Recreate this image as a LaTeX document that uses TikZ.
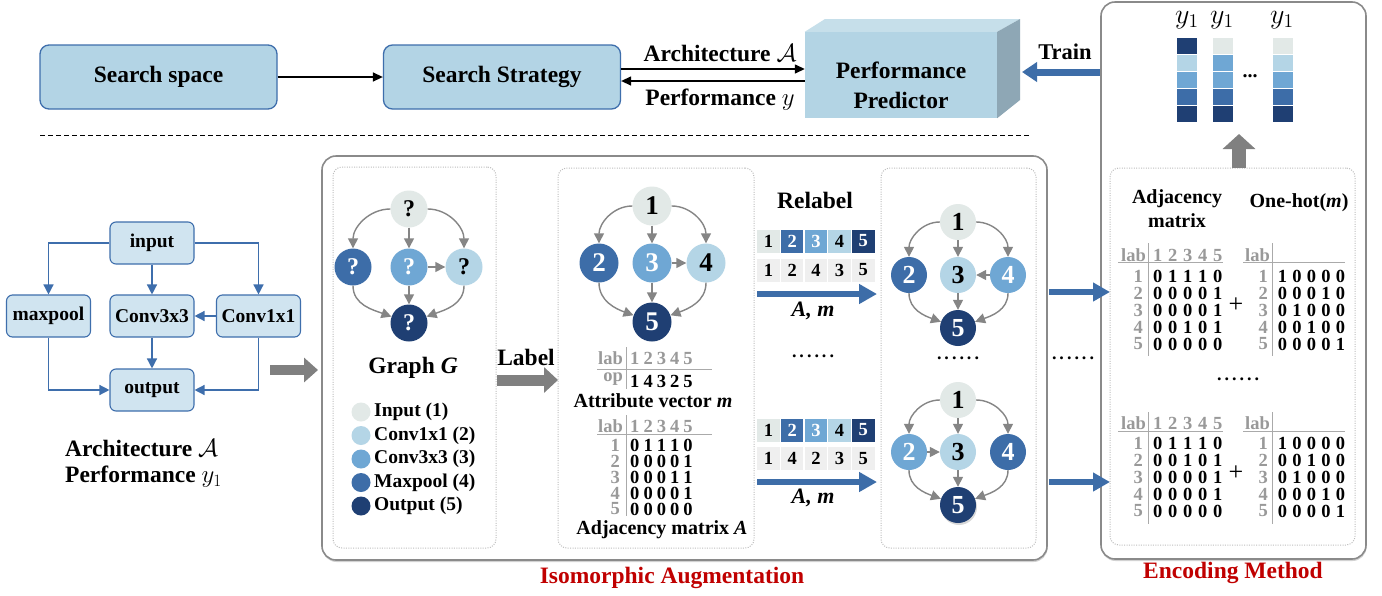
\documentclass[tikz,border=0pt]{standalone}
\usepackage{fontspec}
\setmainfont{Liberation Serif}
\usetikzlibrary{arrows.meta,shadows,calc}
\definecolor{cgray}{HTML}{E2E9E7}
\definecolor{clight}{HTML}{B4D5E6}
\definecolor{cmid}{HTML}{6FA7D4}
\definecolor{cblue}{HTML}{3D6DA8}
\definecolor{cnavy}{HTML}{1F3F73}
\definecolor{boxfill}{HTML}{B3D4E5}
\definecolor{boxedge}{HTML}{3E6EAC}
\definecolor{archfill}{HTML}{D0E4F0}
\definecolor{arrgray}{HTML}{808080}
\definecolor{edgegray}{HTML}{858585}
\definecolor{cellgray}{HTML}{EFEFEF}
\definecolor{labgray}{HTML}{999999}
\definecolor{linegray}{HTML}{AAAAAA}
\definecolor{boxgray}{HTML}{8A8A8A}
\definecolor{dotgray}{HTML}{BDBDBD}
\definecolor{darkred}{HTML}{C00000}
\definecolor{ppfront}{HTML}{B3D4E4}
\definecolor{pptop}{HTML}{C6DFEA}
\definecolor{ppside}{HTML}{8EA7B5}
\newcommand\fs[1]{\fontsize{#1}{#1}\selectfont}
\newcommand\fiv[6]{\makebox[#1]{#2}\makebox[#1]{#3}\makebox[#1]{#4}\makebox[#1]{#5}\makebox[#1]{#6}}
\newcommand\sixdots{.\kern3pt.\kern3pt.\kern3pt.\kern3pt.\kern3pt.}
\tikzset{
 topbox/.style={draw=boxedge, line width=1.3pt, fill=boxfill, rounded corners=9pt, minimum width=237pt, minimum height=64pt, inner sep=0pt, font=\fs{23.5}\bfseries},
 ab/.style={draw=boxedge, line width=1.1pt, fill=archfill, rounded corners=6pt, minimum width=84pt, minimum height=42pt, inner sep=0pt, font=\fs{19.5}\bfseries},
 blk/.style={draw=black, line width=1.4pt, -{Triangle[length=10pt,width=9pt]}},
 barr/.style={draw=boxedge, line width=1.4pt, -{Triangle[length=10pt,width=10pt]}},
 gedge/.style={draw=edgegray, line width=1.4pt, -{Triangle[length=10pt,width=10pt]}},
 gn/.style={circle, inner sep=0pt, minimum size=#1},
 ng/.style={fill=cgray, text=black},
 nl/.style={fill=clight, text=black},
 nm/.style={fill=cmid, text=white},
 nb/.style={fill=cblue, text=white},
 nn/.style={fill=cnavy, text=white},
 fatgray/.style={draw=arrgray, line width=10pt, -{Triangle[length=14pt,width=24pt]}},
 fatblue/.style={draw=cblue, line width=6pt, -{Triangle[length=18pt,width=19pt]}},
 txt/.style={inner sep=0pt, font=\fs{#1}\bfseries},
 cell/.style={minimum width=22.5pt, minimum height=23pt, inner sep=0pt, font=\fs{18.5}\bfseries},
 outerbox/.style={draw=boxgray, line width=1.6pt, rounded corners=14pt, fill=white, inner sep=0pt, drop shadow={shadow xshift=0.5pt, shadow yshift=-2pt, opacity=0.35}},
 dotbox/.style={draw=dotgray, line width=1pt, dash pattern=on 1pt off 1.4pt, rounded corners=9pt, inner sep=0pt},
 rl/.style={anchor=east, inner sep=0pt, text=labgray, font=\fs{18.5}\bfseries},
 rv/.style={anchor=west, inner sep=0pt, font=\fs{18.5}\bfseries},
 tline/.style={draw=linegray, line width=0.9pt},
}
\begin{document}
\begin{tikzpicture}[x=1pt,y=-1pt]
\useasboundingbox (0,0) rectangle (1382,595);
\fill[white] (0,0) rectangle (1382,595);

% ---------- outer boxes
\node[outerbox, minimum width=725pt, minimum height=404pt] (iso) at (684.5,358) {};
\node[outerbox, minimum width=265pt, minimum height=557pt] (enc) at (1233.5,280.5) {};
\node[dotbox, minimum width=163pt, minimum height=381pt] (d1) at (414.5,357.5) {};
\node[dotbox, minimum width=196pt, minimum height=380pt] (d2) at (656,358) {};
\node[dotbox, minimum width=155pt, minimum height=380pt] (d3) at (958.5,358) {};
\node[dotbox, minimum width=245pt, minimum height=377pt] (d4) at (1232.5,356.5) {};

% ---------- top row
\node[topbox] (ss) at (158.5,77) {Search space};
\node[topbox] (st) at (502,77) {Search Strategy};
\draw[blk] (ss) -- (st);

\node[fill=ppfront, minimum width=192pt, minimum height=86pt, inner sep=0pt] (pp) at (901,75) {};
\fill[pptop] (pp.north west) -- (825,19) -- (1020,19) -- (pp.north east) -- cycle;
\fill[ppside] (pp.north east) -- (1020,19) -- (1020,100) -- (pp.south east) -- cycle;
\node[txt=23.5, align=center, font=\fontsize{23.5}{30}\selectfont\bfseries] (ppt) at (901,85) {Performance\\Predictor};

\draw[blk] ($(st.east)+(0,-8)$) -- ($(pp.west)+(0,-6)$);
\draw[blk] ($(pp.west)+(0,6)$) -- ($(st.east)+(0,4)$);
\node[txt=23.5] (archl) at (720,53) {Architecture $\mathcal{A}$};
\node[txt=23.5] (perfl) at (720,100) {Performance $y$};

\node[txt=22.5] (trainl) at (1065,52) {Train};
\coordinate (trs) at (1100,72);
\coordinate (tre) at (1022,72);
\draw[draw=cblue, line width=7pt, -{Triangle[length=15pt,width=19pt]}] (trs) -- (tre);

\draw[black, line width=0.8pt, dash pattern=on 5pt off 3pt] (40,135) -- (1030,135);

% ---------- bars
\foreach \x/\ca/\cb/\cc in {1176/cnavy/clight/cmid, 1212/cgray/cmid/cmid, 1272/cgray/clight/cmid} {
  \filldraw[draw=white, line width=0.8pt, fill=\ca] (\x,37) rectangle ++(21,17);
  \filldraw[draw=white, line width=0.8pt, fill=\cb] (\x,54) rectangle ++(21,17);
  \filldraw[draw=white, line width=0.8pt, fill=\cc] (\x,71) rectangle ++(21,17);
  \filldraw[draw=white, line width=0.8pt, fill=cblue] (\x,88) rectangle ++(21,17);
  \filldraw[draw=white, line width=0.8pt, fill=cnavy] (\x,105) rectangle ++(21,17);
}
\node[inner sep=0pt, font=\fs{20}] (ya) at (1187,20) {\scalebox{1.35}{$y_1$}};
\node[inner sep=0pt, font=\fs{20}] (yb) at (1222,20) {\scalebox{1.35}{$y_1$}};
\node[inner sep=0pt, font=\fs{20}] (yc) at (1282,20) {\scalebox{1.35}{$y_1$}};
\node[txt=20] (bdots) at (1250,76) {...};
\coordinate (ups) at (1239,168);
\coordinate (upe) at (1239,134);
\draw[draw=arrgray, line width=14pt, -{Triangle[length=15pt,width=32pt]}] (ups) -- (upe);

% ---------- left architecture
\node[ab] (in) at (152,243) {input};
\node[ab] (mp) at (48.5,316) {maxpool};
\node[ab] (c3) at (152,316) {Conv3x3};
\node[ab] (c1) at (258.5,316) {Conv1x1};
\node[ab] (out) at (152,390) {output};
\draw[barr] (in.west) -| (mp.north);
\draw[barr] (in.east) -| (c1.north);
\draw[barr] (in) -- (c3);
\draw[barr] (c1) -- (c3);
\draw[barr] (c3) -- (out);
\draw[barr] (mp.south) |- (out.west);
\draw[barr] (c1.south) |- (out.east);
\node[txt=23.5, anchor=west] (al1) at (65,448) {Architecture $\mathcal{A}$};
\node[txt=23.5, anchor=west] (al2) at (65,477) {Performance $y_1$};
\coordinate (ga1) at (270,370);
\coordinate (ga2) at (318,370);
\draw[fatgray] (ga1) -- (ga2);

% ---------- Graph G
\begin{scope}[every node/.append style={font=\fs{24}\bfseries}]
\node[gn=37pt, ng] (a1) at (409,209) {?};
\node[gn=37pt, nb] (a2) at (353,267) {?};
\node[gn=37pt, nm] (a3) at (409,267) {?};
\node[gn=37pt, nl] (a4) at (464,267) {?};
\node[gn=37pt, nn] (a5) at (409,323) {?};
\end{scope}
\draw[gedge] (a1.180) to[out=180,in=90] (a2.north);
\draw[gedge] (a1.0) to[out=0,in=90] (a4.north);
\draw[gedge] (a1) -- (a3);
\draw[gedge] (a3) -- (a4);
\draw[gedge] (a3) -- (a5);
\draw[gedge] (a2.south) to[out=-90,in=160] (a5.160);
\draw[gedge] (a4.south) to[out=-90,in=20] (a5.20);
\node[txt=23.5] (gg) at (413,368) {Graph \textit{G}};
\foreach \y/\c/\t [count=\k] in {412/cgray/Input (1), 435.5/clight/Conv1x1 (2), 459/cmid/Conv3x3 (3), 482.5/cblue/Maxpool (4), 506/cnavy/Output (5)} {
  \node[circle, fill=\c, minimum size=19pt, inner sep=0pt] (lc\k) at (361,\y) {};
  \node[txt=19.5, anchor=west] (lt\k) at (374,\y) {\t};
}

% ---------- Label arrow
\node[txt=23.5] (labl) at (526,357) {Label};
\coordinate (la1) at (497,380);
\coordinate (la2) at (558,380);
\draw[draw=arrgray, line width=11pt, -{Triangle[length=14pt,width=25pt]}] (la1) -- (la2);

% ---------- Graph 2
\begin{scope}[every node/.append style={font=\fs{27}\bfseries}]
\node[gn=39pt, ng] (b1) at (652,206) {1};
\node[gn=39pt, nb] (b2) at (599,263) {2};
\node[gn=39pt, nm] (b3) at (652,263) {3};
\node[gn=39pt, nl] (b4) at (706,263) {4};
\node[gn=39pt, nn] (b5) at (652,322) {5};
\end{scope}
\draw[gedge] (b1.180) to[out=180,in=90] (b2.north);
\draw[gedge] (b1.0) to[out=0,in=90] (b4.north);
\draw[gedge] (b1) -- (b3);
\draw[gedge] (b3) -- (b4);
\draw[gedge] (b3) -- (b5);
\draw[gedge] (b2.south) to[out=-90,in=160] (b5.160);
\draw[gedge] (b4.south) to[out=-90,in=20] (b5.20);

% attribute vector table
\node[rl, anchor=east] (avl) at (623,358) {lab};
\node[rl, anchor=west] (avh) at (628,358) {\fiv{13.3pt}{1}{2}{3}{4}{5}};
\node[rl] (avo) at (623,379) {op};
\node[rv] (avv) at (628,381) {\fiv{13.3pt}{1}{4}{3}{2}{5}};
\draw[tline] (626,347) -- (626,389);
\draw[tline] (597,369) -- (712,369);
\node[txt=20] (avt) at (653,401) {Attribute vector \textit{m}};

% adjacency table
\node[rl] (adl) at (623,426) {lab};
\node[rl, anchor=west] (adh) at (628,426) {\fiv{13.3pt}{1}{2}{3}{4}{5}};
\draw[tline] (626,415) -- (626,516);
\draw[tline] (597,434) -- (712,434);
\foreach \r/\a/\b/\c/\d/\e [count=\k] in {445/0/1/1/1/0, 461/0/0/0/0/1, 477/0/0/0/1/1, 493/0/0/0/0/1, 509/0/0/0/0/0} {
  \node[rl] (adr\k) at (620,\r) {\k};
  \node[rv] (adv\k) at (628,\r) {\fiv{13.3pt}{\a}{\b}{\c}{\d}{\e}};
}
\node[txt=20] (adt) at (662,530) {Adjacency matrix \textit{A}};

% ---------- Relabel
\node[txt=23.5] (rel) at (815,200) {Relabel};
\foreach \i/\f/\t in {1/cgray/black, 2/cblue/white, 3/cmid/white, 4/clight/black, 5/cnavy/white} {
  \node[cell, fill=\f, text=\t] (ua\i) at ({768.5+(\i-1)*23.7},241) {\i};
  \node[cell, fill=\f, text=\t] (la\i) at ({768.5+(\i-1)*23.7},430) {\i};
}
\foreach \i/\v in {1/1, 2/2, 3/4, 4/3, 5/5} {
  \node[cell, fill=cellgray] (ub\i) at ({768.5+(\i-1)*23.7},270) {\v};
}
\foreach \i/\v in {1/1, 2/4, 3/2, 4/3, 5/5} {
  \node[cell, fill=cellgray] (lb\i) at ({768.5+(\i-1)*23.7},458.5) {\v};
}
\coordinate (r1s) at (757,294);
\coordinate (r1e) at (877,294);
\coordinate (r2s) at (757,482);
\coordinate (r2e) at (877,482);
\draw[fatblue] (r1s) -- (r1e);
\draw[fatblue] (r2s) -- (r2e);
\node[inner sep=0pt, font=\fs{22}\bfseries\itshape] (am1) at (813,311) {A, m};
\node[inner sep=0pt, font=\fs{22}\bfseries\itshape] (am2) at (813,498) {A, m};
\node[txt=18] (dt1) at (813,356) {\sixdots};

% ---------- Graph 3
\begin{scope}[every node/.append style={font=\fs{26}\bfseries}]
\node[gn=36pt, ng] (c1n) at (958,222) {1};
\node[gn=36pt, nb] (c2n) at (909,275) {2};
\node[gn=36pt, nl] (c3n) at (958,275) {3};
\node[gn=36pt, nm] (c4n) at (1008,275) {4};
\node[gn=36pt, nn] (c5n) at (958,328) {5};
\node[gn=36pt, ng] (e1n) at (958,400) {1};
\node[gn=36pt, nm] (e2n) at (909,452) {2};
\node[gn=36pt, nl] (e3n) at (958,452) {3};
\node[gn=36pt, nb] (e4n) at (1008,452) {4};
\node[gn=36pt, nn, drop shadow={shadow xshift=1pt, shadow yshift=-2pt, opacity=0.3}] (e5n) at (958,505) {5};
\end{scope}
\draw[gedge] (c1n.180) to[out=180,in=90] (c2n.north);
\draw[gedge] (c1n.0) to[out=0,in=90] (c4n.north);
\draw[gedge] (c1n) -- (c3n);
\draw[gedge] (c4n) -- (c3n);
\draw[gedge] (c3n) -- (c5n);
\draw[gedge] (c2n.south) to[out=-90,in=160] (c5n.160);
\draw[gedge] (c4n.south) to[out=-90,in=20] (c5n.20);
\draw[gedge] (e1n.180) to[out=180,in=90] (e2n.north);
\draw[gedge] (e1n.0) to[out=0,in=90] (e4n.north);
\draw[gedge] (e1n) -- (e3n);
\draw[gedge] (e2n) -- (e3n);
\draw[gedge] (e3n) -- (e5n);
\draw[gedge] (e2n.south) to[out=-90,in=160] (e5n.160);
\draw[gedge] (e4n.south) to[out=-90,in=20] (e5n.20);
\node[txt=18] (dt2) at (958,358) {\sixdots};
\node[txt=18] (dt3) at (1073,358) {\sixdots};

% ---------- arrows into encoding
\coordinate (q1s) at (1049,292);
\coordinate (q1e) at (1110,292);
\coordinate (q2s) at (1049,482);
\coordinate (q2e) at (1110,482);
\draw[draw=cblue, line width=6pt, -{Triangle[length=17pt,width=18pt]}] (q1s) -- (q1e);
\draw[draw=cblue, line width=6pt, -{Triangle[length=17pt,width=18pt]}] (q2s) -- (q2e);

% ---------- Encoding
\node[txt=20, align=center, font=\fontsize{20}{24}\selectfont\bfseries] (eadj) at (1177,209) {Adjacency\\matrix};
\node[txt=20] (eoh) at (1299,203) {One-hot(\textit{m})};
\node[rl] (t1l) at (1146,255) {lab};
\node[rl, anchor=west] (t1h) at (1150,255) {\fiv{15pt}{1}{2}{3}{4}{5}};
\node[rl] (t2l) at (1270,255) {lab};
\draw[tline] (1148,243) -- (1148,356);
\draw[tline] (1118,262) -- (1223,262);
\draw[tline] (1272,243) -- (1272,356);
\draw[tline] (1243,262) -- (1345,262);
\foreach \r/\a/\b/\c/\d/\e/\f/\g/\h/\i/\j [count=\k] in {276/0/1/1/1/0/1/0/0/0/0, 293/0/0/0/0/1/0/0/0/1/0, 310/0/0/0/0/1/0/1/0/0/0, 327/0/0/1/0/1/0/0/1/0/0, 344/0/0/0/0/0/0/0/0/0/1} {
  \node[rl] (ura\k) at (1143,\r) {\k};
  \node[rv] (uva\k) at (1150,\r) {\fiv{15pt}{\a}{\b}{\c}{\d}{\e}};
  \node[rl] (urb\k) at (1268,\r) {\k};
  \node[rv] (uvb\k) at (1275,\r) {\fiv{14.5pt}{\f}{\g}{\h}{\i}{\j}};
}
\node[inner sep=0pt, font=\fs{26}] (plus1) at (1236,305) {+};
\node[txt=18] (dt4) at (1238,379) {\sixdots};
\node[rl] (t3l) at (1146,423) {lab};
\node[rl, anchor=west] (t3h) at (1150,423) {\fiv{15pt}{1}{2}{3}{4}{5}};
\node[rl] (t4l) at (1270,423) {lab};
\draw[tline] (1148,412) -- (1148,524);
\draw[tline] (1118,431) -- (1223,431);
\draw[tline] (1272,412) -- (1272,524);
\draw[tline] (1243,431) -- (1345,431);
\foreach \r/\a/\b/\c/\d/\e/\f/\g/\h/\i/\j [count=\k] in {443/0/1/1/1/0/1/0/0/0/0, 460/0/0/1/0/1/0/0/1/0/0, 477/0/0/0/0/1/0/1/0/0/0, 494/0/0/0/0/1/0/0/0/1/0, 511/0/0/0/0/0/0/0/0/0/1} {
  \node[rl] (lra\k) at (1143,\r) {\k};
  \node[rv] (lva\k) at (1150,\r) {\fiv{15pt}{\a}{\b}{\c}{\d}{\e}};
  \node[rl] (lrb\k) at (1268,\r) {\k};
  \node[rv] (lvb\k) at (1275,\r) {\fiv{14.5pt}{\f}{\g}{\h}{\i}{\j}};
}
\node[inner sep=0pt, font=\fs{26}] (plus2) at (1236,473) {+};

% ---------- red captions
\node[txt=23.5, text=darkred] (isol) at (672,578) {Isomorphic Augmentation};
\node[txt=23.5, text=darkred] (encl) at (1233,573) {Encoding Method};
\end{tikzpicture}
\end{document}
